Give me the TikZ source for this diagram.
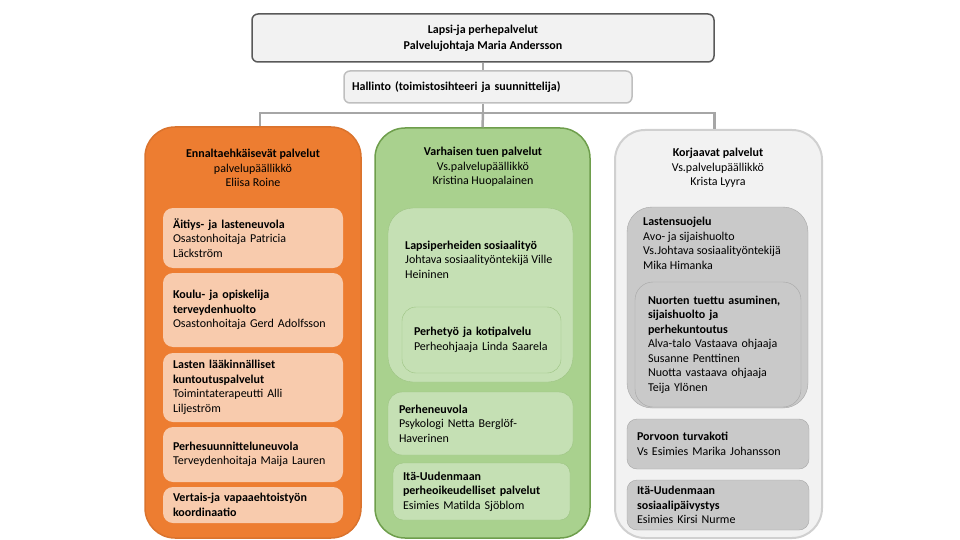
\documentclass[tikz,border=0pt]{standalone}
\usepackage{fontspec}
\setmainfont{Carlito}
\usepackage{tikz}
\usetikzlibrary{calc}

\definecolor{topgray}{HTML}{F2F2F2}
\definecolor{topline}{HTML}{595959}
\definecolor{halline}{HTML}{BFBFBF}
\definecolor{linkgray}{HTML}{A6A6A6}
\definecolor{orangecol}{HTML}{ED7D31}
\definecolor{orangeunit}{HTML}{F8CBAD}
\definecolor{greencol}{HTML}{A9D18E}
\definecolor{greenline}{HTML}{6E9E4C}
\definecolor{greenunit}{HTML}{C5E0B4}
\definecolor{greenunitline}{HTML}{9CC382}
\definecolor{graycol}{HTML}{F2F2F2}
\definecolor{graycolline}{HTML}{D0D0D0}
\definecolor{grayunit}{HTML}{C9C9C9}
\definecolor{grayunitline}{HTML}{A6A6A6}

\tikzset{
  colbox/.style={rectangle, rounded corners=30pt, line width=1.5pt},
  unitbox/.style={rectangle, rounded corners=10pt, align=left, inner xsep=10pt, inner ysep=0pt},
  link/.style={draw=linkgray, line width=2.5pt},
}

\begin{document}
\begin{tikzpicture}[x=1pt, y=-1pt, every node/.style={font=\fontsize{12}{14.5}\selectfont}]
    \useasboundingbox (0,0) rectangle (960,540);

    % johto
    \node[draw=topline, fill=topgray, line width=1.5pt, rectangle, rounded corners=6pt,
          minimum width=462pt, minimum height=48pt, align=center] (top) at (483,38)
        {\textbf{Lapsi-ja perhepalvelut}\\[1.5pt]\textbf{Palvelujohtaja Maria Andersson}};
    \node[draw=halline, fill=topgray, line width=1.5pt, rectangle, rounded corners=6pt,
          minimum width=288pt, minimum height=32pt, text width=272pt, inner xsep=8pt, align=left] (hallinto) at (488,87)
        {\textbf{Hallinto (toimistosihteeri ja suunnittelija)}};

    % palvelualueet
    \node[colbox, draw=orangecol!92!black, fill=orangecol, minimum width=216pt, minimum height=411pt] (ennalta) at (253,332.5) {};
    \node[colbox, draw=greenline, fill=greencol, minimum width=215pt, minimum height=410pt] (varhainen) at (482.5,333) {};
    \node[colbox, draw=graycolline, line width=2pt, fill=graycol, minimum width=207pt, minimum height=408pt] (korjaava) at (718.5,334) {};

    \node[align=center] (ennaltaTitle) at (253,168) {\textbf{Ennaltaehkäisevät palvelut}\\palvelupäällikkö\\Eliisa Roine};
    \node[align=center] (varhainenTitle) at (483,167) {\textbf{Varhaisen tuen palvelut}\\Vs.palvelupäällikkö\\Kristina Huopalainen};
    \node[align=center] (korjaavaTitle) at (718,168) {\textbf{Korjaavat palvelut}\\Vs.palvelupäällikkö\\Krista Lyyra};

    % connectors
    \coordinate (bus) at (483,113);
    \draw[link] (top.south) -- (top.south |- hallinto.north);
    \draw[link] (hallinto.south -| bus) -- (bus);
    \draw[link] ([xshift=7pt]ennalta.north) |- (bus) -| ([xshift=-4pt]korjaava.north);
    \draw[link] (bus) -- (varhainen.north);

    % ennaltaehkaisevat
    \node[unitbox, fill=orangeunit, minimum width=180pt, text width=160pt, minimum height=60pt] (eA) at (253,238)
        {\textbf{Äitiys- ja lasteneuvola}\\Osastonhoitaja Patricia\\Läckström};
    \node[unitbox, fill=orangeunit, minimum width=180pt, text width=160pt, minimum height=74pt] (eB) at (253,310)
        {\textbf{Koulu- ja opiskelija}\\\textbf{terveydenhuolto}\\Osastonhoitaja Gerd Adolfsson};
    \node[unitbox, fill=orangeunit, minimum width=180pt, text width=160pt, minimum height=69pt] (eC) at (253,387.5)
        {\textbf{Lasten lääkinnälliset}\\\textbf{kuntoutuspalvelut}\\Toimintaterapeutti Alli\\Liljeström};
    \node[unitbox, fill=orangeunit, minimum width=180pt, text width=160pt, minimum height=55pt] (eD) at (253,454.5)
        {\textbf{Perhesuunnitteluneuvola}\\Terveydenhoitaja Maija Lauren};
    \node[unitbox, fill=orangeunit, minimum width=180pt, text width=160pt, minimum height=36pt] (eE) at (253,505)
        {\textbf{Vertais-ja vapaaehtoistyön}\\\textbf{koordinaatio}};

    % varhainen tuki
    \node[unitbox, rounded corners=25pt, draw=greenunitline, fill=greenunit, minimum width=185pt, minimum height=174pt] (vA) at (480.5,295) {};
    \node[anchor=west, align=left, inner sep=0pt] (vAText) at (405,259.5)
        {\textbf{Lapsiperheiden sosiaalityö}\\Johtava sosiaalityöntekijä Ville\\Heininen};
    \node[unitbox, rounded corners=14pt, draw=greenunitline, fill=greenunit, inner xsep=12pt,
          minimum width=159pt, text width=135pt, minimum height=66pt] (vB) at (481.5,340)
        {\textbf{Perhetyö ja kotipalvelu}\\Perheohjaaja Linda Saarela};
    \node[unitbox, rounded corners=14pt, draw=greenunitline, fill=greenunit, inner xsep=11pt,
          minimum width=185pt, text width=163pt, minimum height=63pt] (vC) at (480.5,423.5)
        {\textbf{Perheneuvola}\\Psykologi Netta Berglöf-\\Haverinen};
    \node[unitbox, draw=greenunitline, fill=greenunit, minimum width=177pt, text width=157pt, minimum height=57pt] (vD) at (481.5,491.5)
        {\textbf{Itä-Uudenmaan}\\\textbf{perheoikeudelliset palvelut}\\Esimies Matilda Sjöblom};

    % korjaavat
    \node[unitbox, rounded corners=25pt, draw=grayunitline, fill=grayunit, minimum width=181pt, minimum height=201pt] (kA) at (717.5,307.5) {};
    \node[anchor=west, align=left, inner sep=0pt] (kAText) at (643,243.5)
        {\textbf{Lastensuojelu}\\Avo- ja sijaishuolto\\Vs.Johtava sosiaalityöntekijä\\Mika Himanka};
    \node[unitbox, rounded corners=18pt, draw=grayunitline, fill=grayunit, inner xsep=13pt,
          minimum width=166pt, text width=140pt, minimum height=125pt] (kB) at (718,344.5)
        {\textbf{Nuorten tuettu asuminen,}\\\textbf{sijaishuolto ja}\\\textbf{perhekuntoutus}\\Alva-talo Vastaava ohjaaja\\Susanne Penttinen\\Nuotta vastaava ohjaaja\\Teija Ylönen};
    \node[unitbox, draw=grayunitline, fill=grayunit, minimum width=182pt, text width=162pt, minimum height=50pt] (kC) at (718,444)
        {\textbf{Porvoon turvakoti}\\Vs Esimies Marika Johansson};
    \node[unitbox, draw=grayunitline, fill=grayunit, minimum width=182pt, text width=162pt, minimum height=50pt] (kD) at (718,505)
        {\textbf{Itä-Uudenmaan}\\\textbf{sosiaalipäivystys}\\Esimies Kirsi Nurme};
\end{tikzpicture}
\end{document}
